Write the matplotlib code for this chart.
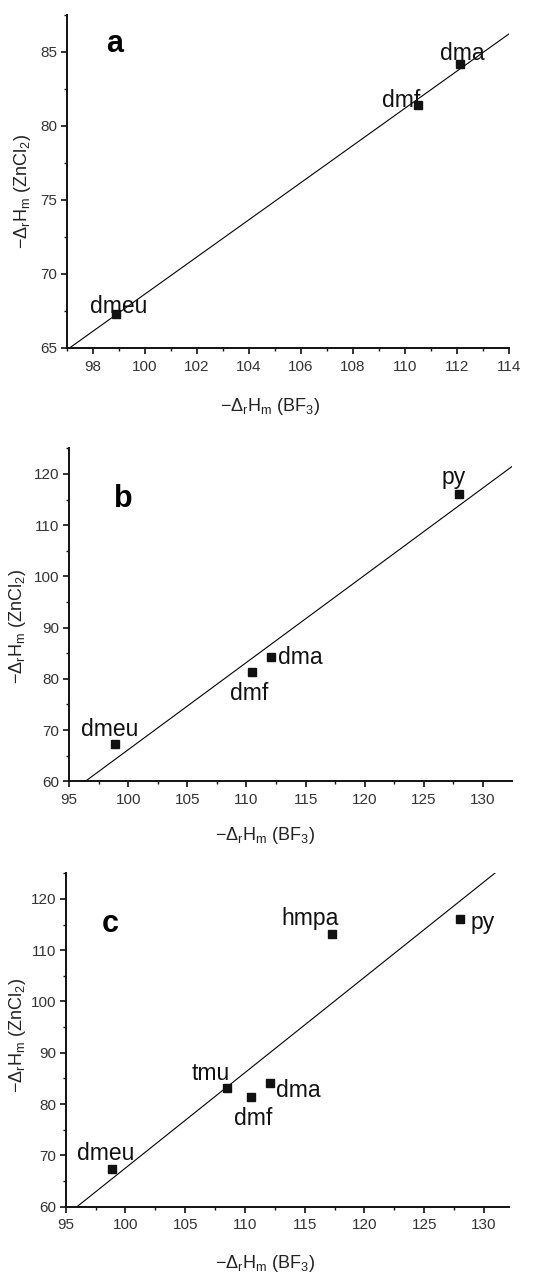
"""
Corrélation -ΔrHm(ZnCl2) / -ΔrHm(BF3) : trois panneaux a, b, c
"""

import numpy as np
import matplotlib.pyplot as plt
from matplotlib.ticker import MultipleLocator

plt.rcParams['font.family'] = ['Liberation Sans', 'DejaVu Sans']
plt.rcParams['mathtext.fontset'] = 'custom'
plt.rcParams['mathtext.rm'] = 'Liberation Sans'

# Données (kJ/mol)
bases_a = ['dmeu', 'dmf', 'dma']
bf3_a = [98.9, 110.5, 112.1]
zncl2_a = [67.3, 81.4, 84.2]

bases_b = ['dmeu', 'dmf', 'dma', 'py']
bf3_b = [98.9, 110.5, 112.1, 128.0]
zncl2_b = [67.3, 81.4, 84.2, 116.1]

bases_c = ['dmeu', 'tmu', 'dmf', 'dma', 'hmpa', 'py']
bf3_c = [98.9, 108.5, 110.5, 112.1, 117.3, 128.0]
zncl2_c = [67.3, 83.1, 81.4, 84.2, 113.1, 116.1]

XLABEL = r'−Δ$_\mathregular{r}$H$_\mathregular{m}$ (BF$_\mathregular{3}$)'
YLABEL = r'−Δ$_\mathregular{r}$H$_\mathregular{m}$ (ZnCl$_\mathregular{2}$)'


def tracer_panneau(ax, lettre, noms, x, y, decalages, xlim, ylim, xpas, ypas,
                   lettre_pos, ylab_pos, xlab_pos):
    # droite de régression
    pente, ordonnee = np.polyfit(x, y, 1)
    xx = np.array(xlim)
    ax.plot(xx, pente * xx + ordonnee, color='black', lw=0.8, zorder=2)

    ax.plot(x, y, 's', color='#111111', ms=5.3, zorder=3, clip_on=False)

    for nom, xi, yi in zip(noms, x, y):
        dx, dy, ha = decalages[nom]
        ax.annotate(nom, (xi, yi), xytext=(dx, dy), textcoords='offset pixels',
                    ha=ha, va='baseline', fontsize=16.5, color='#111111')

    ax.text(lettre_pos[0], lettre_pos[1], lettre, transform=ax.transAxes,
            fontsize=22, fontweight='bold', ha='center', va='baseline')

    ax.set_xlim(*xlim)
    ax.set_ylim(*ylim)
    ax.xaxis.set_major_locator(MultipleLocator(xpas))
    ax.xaxis.set_minor_locator(MultipleLocator(xpas / 2))
    ax.yaxis.set_major_locator(MultipleLocator(ypas))
    ax.yaxis.set_minor_locator(MultipleLocator(ypas / 2))

    for cote in ['top', 'right']:
        ax.spines[cote].set_visible(False)
    for cote in ['left', 'bottom']:
        ax.spines[cote].set_linewidth(1.4)
        ax.spines[cote].set_color('#111111')

    ax.tick_params(which='major', direction='out', length=4, width=1.2,
                   labelsize=11, pad=3, colors='#111111', labelcolor='#333333')
    ax.tick_params(axis='x', which='major', pad=4.5)
    ax.tick_params(which='minor', direction='out', length=2.5, width=1.0,
                   colors='#111111')

    ax.set_xlabel(XLABEL, fontsize=13, color='#222222')
    ax.set_ylabel(YLABEL, fontsize=13, color='#222222')
    ax.xaxis.set_label_coords(*xlab_pos)
    ax.yaxis.set_label_coords(*ylab_pos)


fig = plt.figure(figsize=(5.46, 12.75), dpi=100)

ax_a = fig.add_axes([0.1222, 0.7271, 0.810, 0.2612])
ax_b = fig.add_axes([0.1264, 0.3872, 0.8114, 0.2612])
ax_c = fig.add_axes([0.1203, 0.0536, 0.8120, 0.2615])

tracer_panneau(
    ax_a, 'a', bases_a, bf3_a, zncl2_a,
    {'dmeu': (3, 1, 'center'), 'dmf': (-17, -2, 'center'), 'dma': (3, 4, 'center')},
    (97, 114), (65, 87.5), 2, 5,
    (0.108, 0.89), (-0.076, 0.47), (0.46, -0.144))

tracer_panneau(
    ax_b, 'b', bases_b, bf3_b, zncl2_b,
    {'dmeu': (-5, 8, 'center'), 'dmf': (-3, -28, 'center'),
     'dma': (7, -7, 'left'), 'py': (-6, 10, 'center')},
    (95, 132.45), (60, 125), 5, 10,
    (0.122, 0.823), (-0.093, 0.464), (0.442, -0.131))

tracer_panneau(
    ax_c, 'c', bases_c, bf3_c, zncl2_c,
    {'dmeu': (-7, 9, 'center'), 'tmu': (-16, 8, 'center'),
     'dmf': (2, -28, 'center'), 'dma': (6, -14, 'left'),
     'hmpa': (-22, 9, 'center'), 'py': (11, -10, 'left')},
    (95, 132.1), (60, 125), 5, 10,
    (0.1006, 0.825), (-0.085, 0.515), (0.45, -0.14))

fig.savefig('out.png', dpi=100)
